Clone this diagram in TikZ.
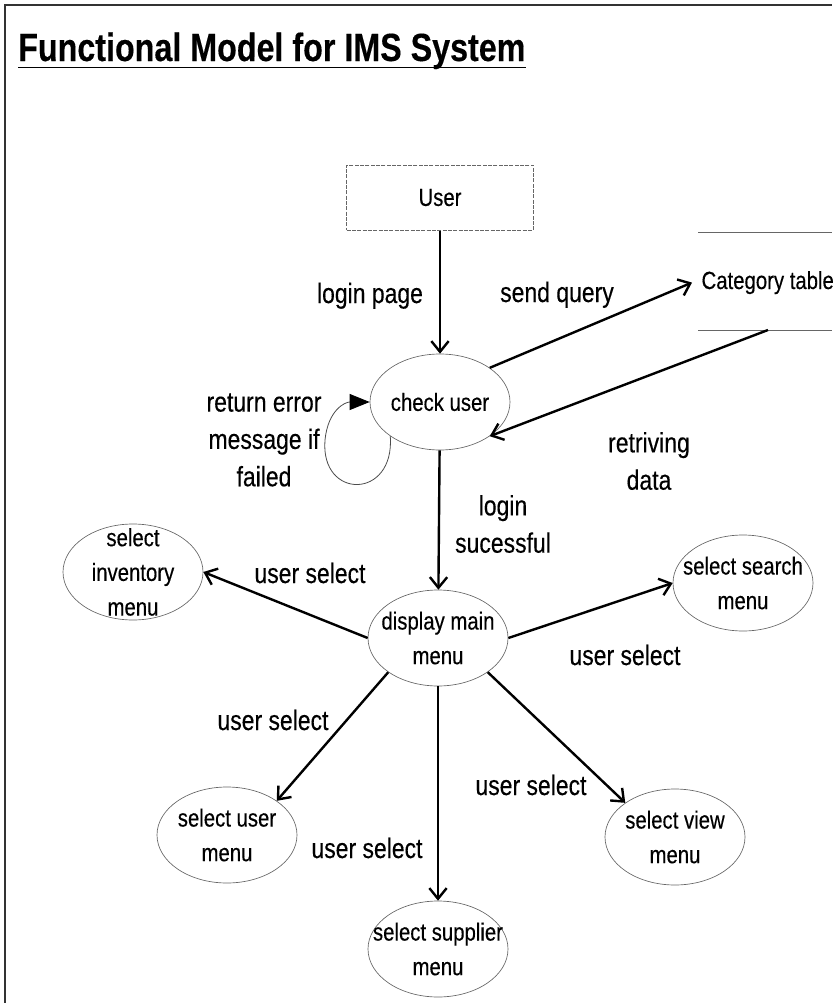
\documentclass[tikz,border=0pt]{standalone}
\usepackage{fontspec}
\setmainfont{Liberation Sans}[FakeStretch=0.82,FakeBold=0.3]
\usetikzlibrary{shapes.geometric,arrows.meta}

\begin{document}
\begin{tikzpicture}[x=0.75pt,y=-0.75pt,
    proc/.style={ellipse,draw=black!60,line width=0.5pt,inner sep=0pt,minimum width=105pt,minimum height=72pt},
    proctext/.style={align=center,font=\fontsize{18.6}{26}\selectfont},
    flowlabel/.style={align=center,font=\fontsize{21}{28}\selectfont},
    flow/.style={-{Straight Barb[length=8pt,width=13pt]},line width=1.8pt},
    loopback/.style={draw=black!70,line width=0.6pt,-{Triangle[length=15pt,width=12pt,color=black]}}]
    \useasboundingbox (0,0) rectangle (832,1003);
    \draw[line width=1.4pt,black!80] (5,1003) -- (5,5) -- (832,5);
    \node[anchor=base west,inner sep=0pt,font=\fontsize{29.5}{34}\selectfont\bfseries] (title) at (18,61) {Functional Model for IMS System};
    \draw[line width=1.1pt] ([yshift=-5pt]title.base west) -- ([yshift=-5pt]title.base east);

    \node[draw=black!60,line width=0.5pt,dash pattern=on 3pt off 1pt,minimum width=140pt,minimum height=49pt,font=\fontsize{18.6}{26}\selectfont] (user) at (440,197.5) {User};
    \node[proc,label={[proctext]center:check user}] (check) at (440,402) {};
    \node[proc,label={[proctext]center:display main\\menu}] (main) at (438,638) {};
    \node[proc,label={[proctext]center:select\\inventory\\menu}] (inv) at (133,572) {};
    \node[proc,label={[proctext]center:select search\\menu}] (search) at (743,583) {};
    \node[proc,label={[proctext]center:select user\\menu}] (selu) at (227,835) {};
    \node[proc,label={[proctext]center:select view\\menu}] (view) at (675,837) {};
    \node[proc,label={[proctext]center:select supplier\\menu}] (supp) at (438,949) {};

    \draw[black!60,line width=0.6pt] (698,232) -- (832,232) (698,330) -- (832,330);
    \node[anchor=base west,inner xsep=7pt,font=\fontsize{18.6}{26}\selectfont] (cat) at (692,289) {Category table};
    \coordinate (retr) at (768,330);

    \node[flowlabel,anchor=base] (lpage) at (370,303) {login page};
    \node[flowlabel,anchor=base] (squery) at (557,302) {send query};
    \node[flowlabel] (rerr) at (264,440) {return error\\message if\\failed};
    \node[flowlabel] (rdata) at (649,461) {retriving\\data};
    \node[flowlabel] (lok) at (503,524) {login\\sucessful};
    \foreach \n/\px/\py in {us1/310/583,us2/625/665,us3/273/730,us4/531/795,us5/367/858}
        \node[flowlabel,anchor=base] (\n) at (\px,\py) {user select};

    \draw[flow] (user) -- (check);
    \draw[flow] (check.north east) -- (cat.west);
    \draw[flow] (retr) -- (check.south east);
    \draw[loopback] (check.south west) .. controls (395,500) and (320,500) .. (325,440) .. controls (328,410) and (345,402) .. (check.west);
    \draw[flow] (check) -- (main);
    \draw[flow] (main.west) -- (inv.east);
    \draw[flow] (main.east) -- (search.west);
    \draw[flow] (main.south west) -- (selu.north east);
    \draw[flow] (main.south east) -- (view.north west);
    \draw[flow] (main) -- (supp);
\end{tikzpicture}
\end{document}
